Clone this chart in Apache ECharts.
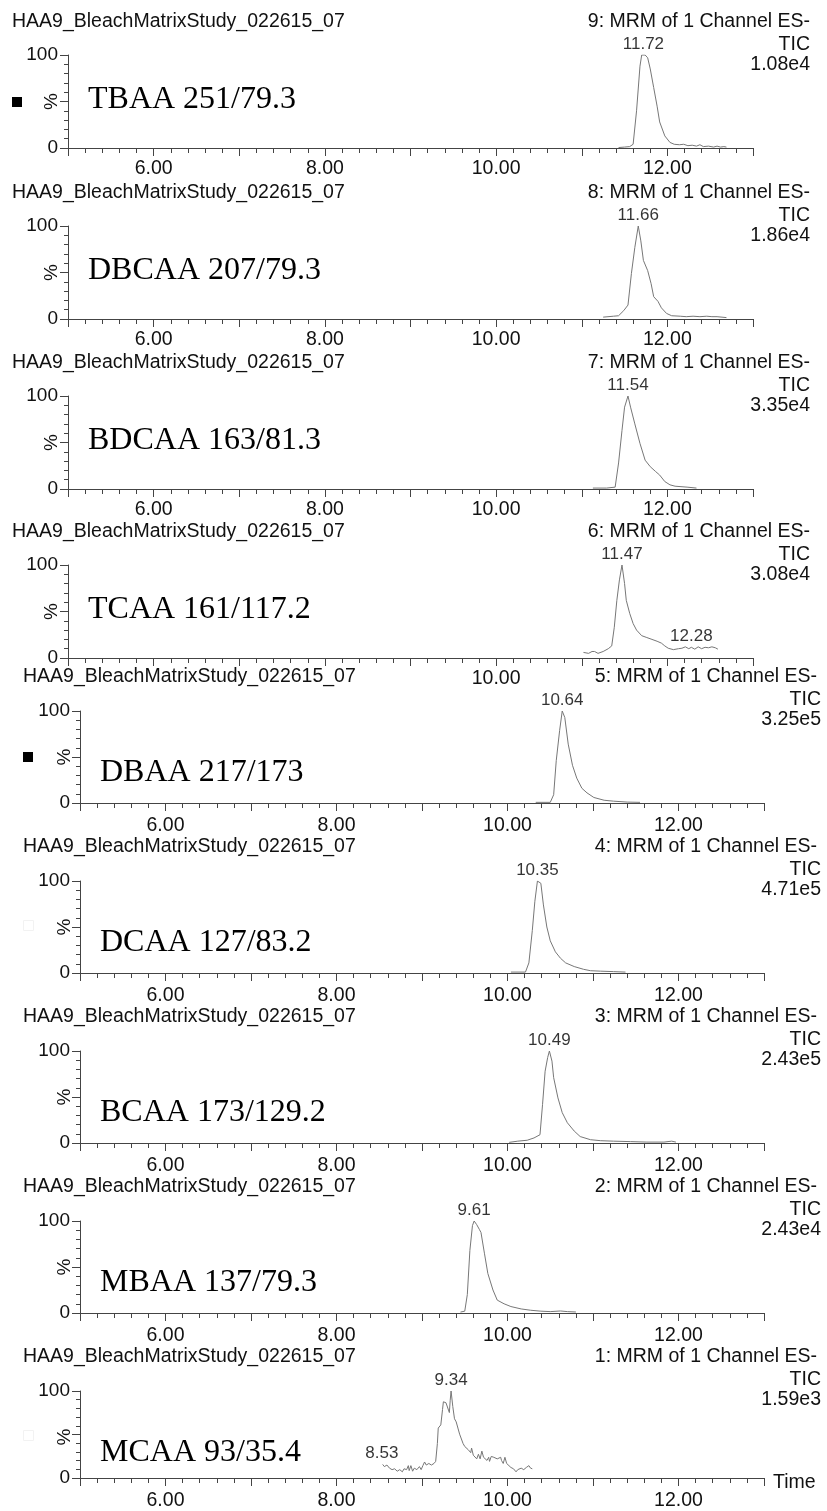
<!DOCTYPE html>
<html>
<head>
<meta charset="utf-8">
<title>HAA9 Bleach Matrix Study - MRM chromatograms</title>
<script src="https://cdn.jsdelivr.net/npm/echarts@6/dist/echarts.min.js"></script>
<style>
  html, body { margin: 0; padding: 0; background: #fff; }
  #chart { width: 827px; height: 1511px; }
</style>
</head>
<body>
<div id="chart"></div>
<script>
// panel texts, top panel first
const sampleName = 'HAA9_BleachMatrixStudy_022615_07';
const channelNames = [
  '9: MRM of 1 Channel ES-', '8: MRM of 1 Channel ES-', '7: MRM of 1 Channel ES-',
  '6: MRM of 1 Channel ES-', '5: MRM of 1 Channel ES-', '4: MRM of 1 Channel ES-',
  '3: MRM of 1 Channel ES-', '2: MRM of 1 Channel ES-', '1: MRM of 1 Channel ES-'
];
const scanType = 'TIC';
const intensities = ['1.08e4', '1.86e4', '3.35e4', '3.08e4', '3.25e5', '4.71e5', '2.43e5', '2.43e4', '1.59e3'];
const compounds = [
  'TBAA 251/79.3', 'DBCAA 207/79.3', 'BDCAA 163/81.3', 'TCAA 161/117.2', 'DBAA 217/173',
  'DCAA 127/83.2', 'BCAA 173/129.2', 'MBAA 137/79.3', 'MCAA 93/35.4'
];
const timeMin = 5;
const timeMax = 13;
const timeLabels = [6, 8, 10, 12];
const pctLabels = [0, 100];

// traces: [time (min), % of largest peak]
const tbaa = [[11.43,0.5],[11.50,1],[11.56,1.5],[11.60,4],[11.64,40],[11.68,88],[11.70,100],[11.74,100],[11.77,97],[11.80,85],[11.84,65],[11.88,45],[11.91,28],[11.97,13],[12.03,6],[12.08,4],[12.14,3.5],[12.19,4],[12.24,2.5],[12.29,3],[12.34,2],[12.38,3.5],[12.42,1.5],[12.48,2],[12.54,1],[12.58,2],[12.62,1],[12.66,1.5],[12.69,1]];
const dbcaa = [[11.25,2],[11.37,3],[11.43,3.5],[11.49,9],[11.54,15],[11.58,49],[11.62,77],[11.66,100],[11.69,84],[11.72,63],[11.77,52],[11.81,38],[11.84,24],[11.89,19],[11.93,12],[11.99,6],[12.05,3.5],[12.15,3],[12.22,2.5],[12.30,3],[12.38,2.5],[12.46,3],[12.52,2.5],[12.58,2.5],[12.69,1.5]];
const bdcaa = [[11.13,1],[11.29,1],[11.39,2],[11.43,28],[11.47,63],[11.50,88],[11.54,100],[11.57,88],[11.62,70],[11.68,49],[11.74,31],[11.80,24],[11.86,19],[11.91,15],[11.97,8],[12.03,4.5],[12.09,3],[12.23,2],[12.34,1]];
const tcaa = [[11.02,6],[11.08,5],[11.12,7],[11.15,7],[11.19,5],[11.25,7],[11.31,10],[11.35,13],[11.38,33],[11.41,62],[11.44,84],[11.47,100],[11.50,80],[11.52,62],[11.56,48],[11.60,37],[11.64,30],[11.70,24],[11.76,22],[11.82,20],[11.88,18],[11.93,16],[11.97,13],[12.01,10.5],[12.07,9],[12.13,10],[12.17,10.5],[12.21,12],[12.25,10],[12.28,11.5],[12.32,9.5],[12.36,12],[12.40,10],[12.44,11.5],[12.48,11],[12.52,12],[12.56,11],[12.59,9.5]];
const dbaa = [[10.33,0.7],[10.50,0.7],[10.54,9],[10.57,46],[10.61,79],[10.64,100],[10.67,93],[10.71,64],[10.76,41],[10.81,27],[10.87,16],[10.93,11],[11.01,6],[11.13,3],[11.24,2],[11.40,1],[11.55,0.7]];
const dcaa = [[10.04,1],[10.21,1],[10.25,11],[10.29,46],[10.32,78],[10.35,100],[10.39,97.5],[10.42,74],[10.46,50],[10.50,35],[10.56,23],[10.62,16],[10.68,11],[10.78,7],[10.89,4],[10.97,2.5],[11.09,2],[11.24,1.5],[11.38,1]];
const bcaa = [[10.02,0.7],[10.12,2],[10.23,3],[10.31,5.5],[10.38,9],[10.41,42],[10.44,78],[10.47,93],[10.49,100],[10.52,89],[10.54,71],[10.59,49],[10.64,33],[10.70,22],[10.78,13],[10.85,7],[10.97,3.6],[11.09,2.5],[11.24,2],[11.44,1.5],[11.63,1],[11.83,1],[11.92,2],[11.97,1]];
const mbaa = [[9.45,1],[9.50,2],[9.53,20],[9.56,68],[9.59,95],[9.61,100],[9.64,96],[9.67,91],[9.69,87.5],[9.73,65],[9.77,43],[9.83,25],[9.88,14],[9.96,10],[10.04,7],[10.16,4.4],[10.27,3],[10.39,2],[10.50,1.5],[10.62,2.2],[10.70,1.5],[10.80,1.1]];
const mcaa = [[8.54,15.6],[8.56,13.1],[8.59,14.9],[8.62,11.3],[8.65,9.6],[8.68,10.6],[8.71,7.8],[8.74,9.6],[8.77,7.1],[8.79,10.6],[8.82,9.6],[8.84,14.2],[8.85,8.5],[8.87,14.2],[8.89,7.8],[8.91,11.3],[8.94,9.6],[8.97,13.1],[8.99,9.6],[9.01,14.2],[9.03,18.4],[9.05,14.9],[9.08,16.7],[9.11,14.9],[9.14,16.7],[9.16,19.1],[9.18,39.7],[9.19,57.4],[9.22,61],[9.24,78.7],[9.25,87.6],[9.28,86.5],[9.30,87.6],[9.32,75.2],[9.33,89.4],[9.34,100],[9.36,82.3],[9.38,68.1],[9.40,64.5],[9.42,57.4],[9.44,50.4],[9.46,48.6],[9.48,39.7],[9.50,36.2],[9.52,34.4],[9.54,32.6],[9.57,29.1],[9.58,34.4],[9.60,26.2],[9.62,25.5],[9.64,22],[9.66,27.3],[9.68,22],[9.70,30.9],[9.72,23.8],[9.74,23.8],[9.76,20.2],[9.78,23.8],[9.79,19.1],[9.81,24.8],[9.84,23.8],[9.86,23.8],[9.88,22],[9.90,22],[9.92,23.8],[9.93,20.2],[9.95,16.7],[9.97,23.8],[9.99,16.7],[10.01,14.9],[10.04,12.1],[10.07,10.6],[10.10,7.1],[10.12,9.6],[10.16,11.3],[10.19,9.6],[10.22,12.1],[10.25,14.2],[10.27,11.3],[10.29,10.6]];
const traces = [tbaa, dbcaa, bdcaa, tcaa, dbaa, dcaa, bcaa, mbaa, mcaa];

// labelled peaks (retention time, %)
const peakMarks = [
  [[11.72, 100]], [[11.66, 100]], [[11.54, 100]], [[11.47, 100], [12.28, 11.5]],
  [[10.64, 100]], [[10.35, 100]], [[10.49, 100]], [[9.61, 100]], [[9.34, 100], [8.53, 15.6]]
];

// layout
const panelBase = [148, 319, 489, 658, 803, 973, 1143, 1313, 1483];
const sans = 'Liberation Sans';
function frame(i) {
  const upper = i < 4;
  return {
    left: upper ? 68 : 80,
    right: upper ? 753 : 764,
    base: panelBase[i],
    h: upper ? 93 : 92,
    titleX: upper ? 12 : 23,
    infoRight: upper ? 810 : 821,
    mrmRight: upper ? 810 : 817,
    pctX: upper ? 52 : 65,
    nameX: upper ? 88 : 100,
    nameDy: upper ? 48 : 30,
  };
}

const grids = [], xAxes = [], yAxes = [], series = [], graphics = [];

traces.forEach((trace, i) => {
  const f = frame(i);
  grids.push({ left: f.left, width: f.right - f.left, top: f.base - f.h, height: f.h, containLabel: false });
  xAxes.push({
    type: 'value', gridIndex: i, min: timeMin, max: timeMax, interval: 1,
    splitLine: { show: false },
    axisLine: { show: true, onZero: false, lineStyle: { color: '#444', width: 1 } },
    axisTick: { show: true, length: 8, lineStyle: { color: '#444' } },
    minorTick: { show: true, splitNumber: 5, length: 5, lineStyle: { color: '#444' } },
    axisLabel: {
      margin: i < 4 ? 11 : 13, color: '#111', fontFamily: sans, fontSize: 19.5,
      showMinLabel: false, showMaxLabel: false,
      formatter: v => (timeLabels.includes(Math.round(v * 100) / 100) ? v.toFixed(2) : ''),
    },
  });
  yAxes.push({
    type: 'value', gridIndex: i, min: 0, max: 100, interval: 50,
    splitLine: { show: false },
    axisLine: { show: true, lineStyle: { color: '#444', width: 1 } },
    axisTick: { show: true, length: 8, lineStyle: { color: '#444' } },
    minorTick: { show: true, splitNumber: 5, length: 4, lineStyle: { color: '#444' } },
    axisLabel: {
      margin: 10, color: '#111', fontFamily: sans, fontSize: 19,
      formatter: v => (pctLabels.includes(v) ? String(v) : ''),
    },
  });
  series.push({
    type: 'line', xAxisIndex: i, yAxisIndex: i, data: trace,
    showSymbol: false, symbol: 'none', smooth: false, silent: true,
    lineStyle: { color: '#777', width: 1 }, z: 3,
  });
  series.push({
    type: 'scatter', xAxisIndex: i, yAxisIndex: i, data: peakMarks[i],
    symbolSize: 1, itemStyle: { color: 'rgba(0,0,0,0)' }, silent: true, z: 4,
    label: {
      show: true, position: 'top', distance: 2, color: '#000', fontFamily: sans, fontSize: 17,
      formatter: p => p.value[0].toFixed(2),
    },
  });

  const boxed = { backgroundColor: '#fff', padding: [1, 3] };
  graphics.push({
    type: 'text', x: f.titleX - 3, y: f.base - 126, z: 100,
    style: Object.assign({ text: sampleName, fill: '#111', fontFamily: sans, fontSize: 19.5, verticalAlign: 'middle', align: 'left' }, boxed),
  });
  graphics.push({
    type: 'text', x: f.mrmRight + 3, y: f.base - 126, z: 100,
    style: Object.assign({ text: channelNames[i], fill: '#111', fontFamily: sans, fontSize: 19.5, verticalAlign: 'middle', align: 'right' }, boxed),
  });
  graphics.push({
    type: 'text', x: f.infoRight + 3, y: f.base - 103, z: 100,
    style: Object.assign({ text: scanType, fill: '#111', fontFamily: sans, fontSize: 19.5, verticalAlign: 'middle', align: 'right' }, boxed),
  });
  graphics.push({
    type: 'text', x: f.infoRight + 3, y: f.base - 83, z: 100,
    style: Object.assign({ text: intensities[i], fill: '#111', fontFamily: sans, fontSize: 19.5, verticalAlign: 'middle', align: 'right' }, boxed),
  });
  graphics.push({
    type: 'text', x: f.pctX, y: f.base - f.h / 2, rotation: Math.PI / 2, z: 100,
    style: { text: '%', fill: '#111', fontFamily: sans, fontSize: 19, verticalAlign: 'middle', align: 'center' },
  });
  graphics.push({
    type: 'text', x: f.nameX, y: f.base - f.nameDy, z: 100,
    style: { text: compounds[i], fill: '#000', fontFamily: 'Liberation Serif', fontSize: 32, verticalAlign: 'middle', align: 'left' },
  });
});

// time axis caption on the bottom panel
graphics.push({
  type: 'text', x: 773, y: 1483, z: 100,
  style: { text: 'Time', fill: '#111', fontFamily: sans, fontSize: 19.5, verticalAlign: 'middle', align: 'left' },
});

// channel markers at the left edge
graphics.push({ type: 'rect', z: 100, shape: { x: 12, y: 97, width: 10, height: 10 }, style: { fill: '#000' } });
graphics.push({ type: 'rect', z: 100, shape: { x: 23, y: 752, width: 10, height: 10 }, style: { fill: '#000' } });
graphics.push({ type: 'rect', z: 100, shape: { x: 23.5, y: 920.5, width: 10, height: 10 }, style: { fill: 'none', stroke: '#f2f2f2' } });
graphics.push({ type: 'rect', z: 100, shape: { x: 23.5, y: 1430.5, width: 10, height: 10 }, style: { fill: 'none', stroke: '#f2f2f2' } });

const chart = echarts.init(document.getElementById('chart'), null, { renderer: 'canvas' });
chart.setOption({
  animation: false,
  backgroundColor: '#fff',
  grid: grids,
  xAxis: xAxes,
  yAxis: yAxes,
  series: series,
  graphic: graphics,
});
</script>
</body>
</html>
